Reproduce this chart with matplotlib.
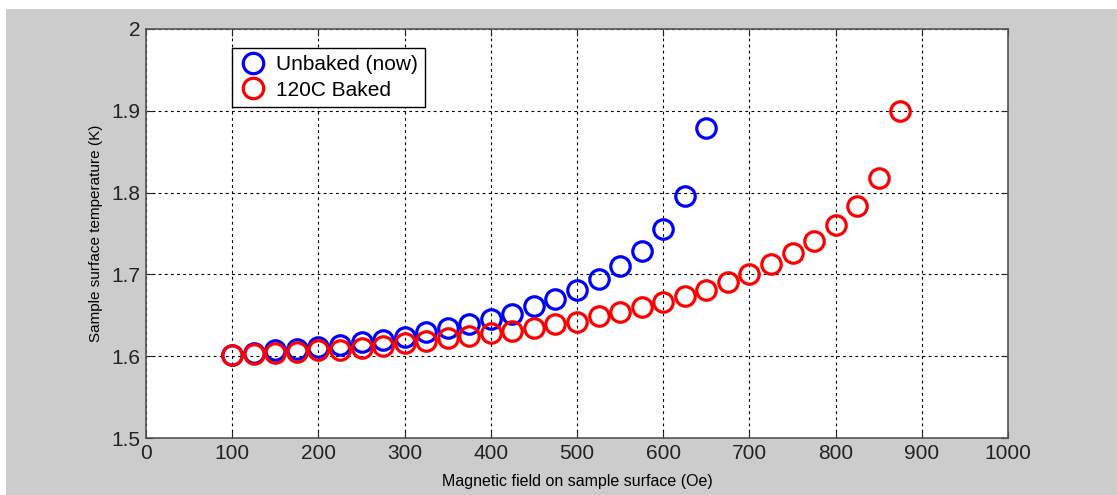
import matplotlib
matplotlib.use("Agg")
import matplotlib.pyplot as plt
from matplotlib.patches import Rectangle

plt.rcParams['font.family'] = ['Liberation Sans', 'DejaVu Sans']

field_unbaked = [100, 125, 150, 175, 200, 225, 250, 275, 300, 325, 350, 375,
                 400, 425, 450, 475, 500, 525, 550, 575, 600, 625, 650]
temp_unbaked = [1.602, 1.604, 1.607, 1.609, 1.611, 1.614, 1.617, 1.620, 1.624, 1.629,
                1.634, 1.639, 1.646, 1.652, 1.661, 1.670, 1.681, 1.694, 1.710, 1.729,
                1.755, 1.796, 1.879]

field_baked = [100, 125, 150, 175, 200, 225, 250, 275, 300, 325, 350, 375, 400,
               425, 450, 475, 500, 525, 550, 575, 600, 625, 650, 675, 700, 725,
               750, 775, 800, 825, 850, 875]
temp_baked = [1.602, 1.603, 1.604, 1.605, 1.607, 1.608, 1.610, 1.613, 1.616, 1.619,
              1.622, 1.625, 1.628, 1.631, 1.634, 1.639, 1.642, 1.649, 1.654, 1.660,
              1.666, 1.674, 1.681, 1.691, 1.701, 1.713, 1.726, 1.741, 1.760, 1.784,
              1.818, 1.900]

xticks = [0, 100, 200, 300, 400, 500, 600, 700, 800, 900, 1000]
yticks = [1.5, 1.6, 1.7, 1.8, 1.9, 2.0]
ytick_labels = ['1.5', '1.6', '1.7', '1.8', '1.9', '2']

W, H = 1117, 495
fig = plt.figure(figsize=(W / 100, H / 100), dpi=100)
fig.patch.set_facecolor('white')
fig.patches.append(Rectangle((6 / W, 0), 1 - 6 / W, (H - 9) / H,
                             transform=fig.transFigure, facecolor='#cccccc',
                             edgecolor='none', zorder=-10))

L, R, T, B = 146, 1008, 29, 438
ax = fig.add_axes([L / W, (H - B) / H, (R - L) / W, (B - T) / H])
ax.set_facecolor('white')

ax.plot(field_unbaked, temp_unbaked, 'o', mfc='none', mec='#0000ff', ms=14, mew=2.3,
        label='Unbaked (now)', zorder=3)
ax.plot(field_baked, temp_baked, 'o', mfc='none', mec='#ff0000', ms=14, mew=2.3,
        label='120C Baked', zorder=3)

ax.set_xlim(0, 1000)
ax.set_ylim(1.5, 2.0)
ax.set_xticks(xticks)
ax.set_xticklabels([str(v) for v in xticks])
ax.set_yticks(yticks)
ax.set_yticklabels(ytick_labels)
ax.grid(True, color='black', linestyle=(0, (2.5, 3)), linewidth=0.8)
ax.tick_params(direction='in', length=5, top=True, right=True, labelsize=15,
               colors='#222222', pad=4)
for s in ax.spines.values():
    s.set_color('#555555')
    s.set_linewidth(1.2)

ax.set_xlabel('Magnetic field on sample surface (Oe)', fontsize=11.5, labelpad=8)
ax.set_ylabel('Sample surface temperature (K)', fontsize=11, labelpad=6)

leg = ax.legend(loc='upper left',
                bbox_to_anchor=((232 - L) / (R - L), (B - 48) / (B - T)),
                borderaxespad=0, fancybox=False, framealpha=1, edgecolor='black',
                fontsize=15, handletextpad=0.45, borderpad=0.35, labelspacing=0.3,
                handlelength=1.3, markerscale=1.05)
leg.get_frame().set_linewidth(1.0)

fig.savefig('out.png', dpi=100, facecolor=fig.get_facecolor())
